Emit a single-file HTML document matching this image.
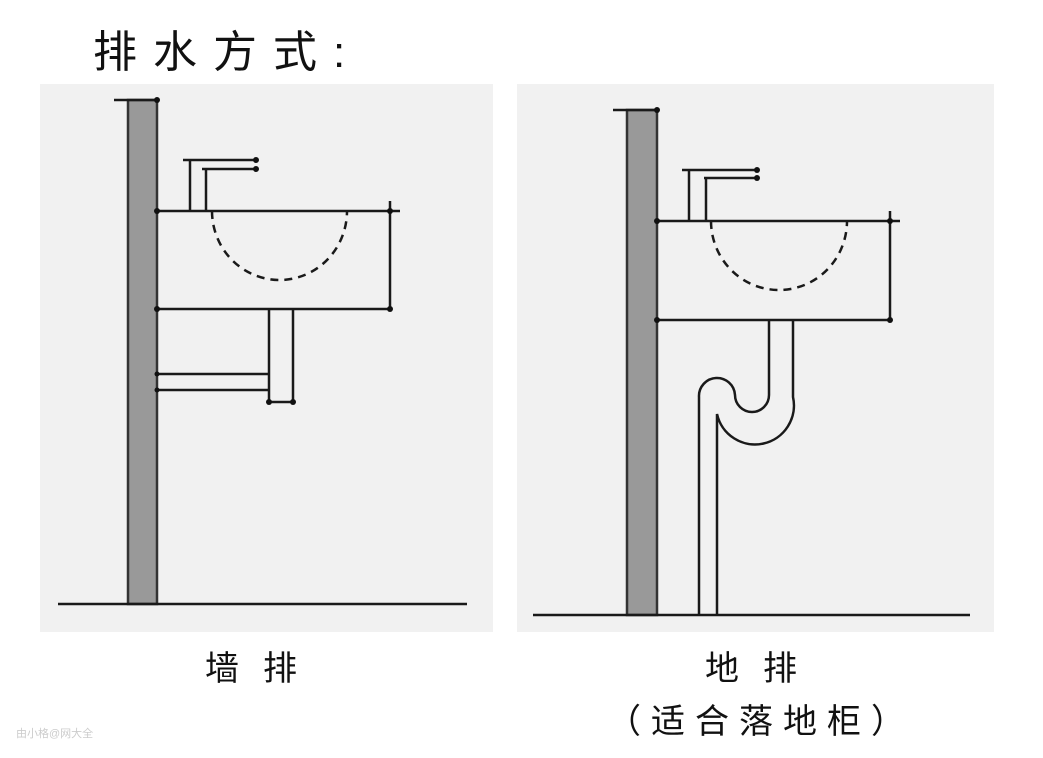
<!DOCTYPE html>
<html><head><meta charset="utf-8"><style>
html,body{margin:0;padding:0;background:#fff;width:1043px;height:758px;overflow:hidden}
svg{display:block}
text{font-family:"Liberation Sans","Noto Sans CJK SC",sans-serif;fill:#111}
</style></head><body>
<svg width="1043" height="758" viewBox="0 0 1043 758" xmlns="http://www.w3.org/2000/svg">
<rect x="40" y="84" width="453" height="548" fill="#f1f1f1"/>
<rect x="517" y="84" width="477" height="548" fill="#f1f1f1"/>
<g stroke="#1a1a1a" stroke-width="2.5" fill="none">
<rect x="128" y="100" width="29" height="504" fill="#999" stroke="#333"/>
<line x1="114" y1="100" x2="157" y2="100"/>
<line x1="58" y1="604" x2="467" y2="604"/>
<line x1="183" y1="160" x2="256" y2="160"/>
<line x1="202" y1="169" x2="256" y2="169"/>
<line x1="190" y1="160" x2="190" y2="211"/>
<line x1="206" y1="169" x2="206" y2="211"/>
<line x1="157" y1="211" x2="400" y2="211"/>
<line x1="390" y1="201" x2="390" y2="309"/>
<line x1="157" y1="309" x2="390" y2="309"/>
<path d="M212,211 A67.5,69 0 0 0 347,211" stroke-dasharray="8,6"/>
<line x1="269" y1="309" x2="269" y2="402"/>
<line x1="293" y1="309" x2="293" y2="402"/>
<line x1="269" y1="402" x2="293" y2="402"/>
<line x1="157" y1="374" x2="269" y2="374"/>
<line x1="157" y1="390" x2="269" y2="390"/>
<rect x="627" y="110" width="30" height="505" fill="#999" stroke="#333"/>
<line x1="613" y1="110" x2="657" y2="110"/>
<line x1="533" y1="615" x2="970" y2="615"/>
<line x1="682" y1="170" x2="757" y2="170"/>
<line x1="704" y1="178" x2="757" y2="178"/>
<line x1="689" y1="170" x2="689" y2="221"/>
<line x1="706" y1="178" x2="706" y2="221"/>
<line x1="656" y1="221" x2="900" y2="221"/>
<line x1="890" y1="211" x2="890" y2="320"/>
<line x1="656" y1="320" x2="890" y2="320"/>
<path d="M711,221 A68,69 0 0 0 847,221" stroke-dasharray="8,6"/>
<path d="M769,320 V395 A17,17 0 0 1 735,395 A18,18 0 0 0 699,397 V615"/>
<path d="M793,320 V397 A38,38 0 0 1 717,414 V615"/>
</g>
<g fill="#111">
<circle cx="157" cy="100" r="3"/><circle cx="157" cy="211" r="3"/><circle cx="157" cy="309" r="3"/>
<circle cx="256" cy="160" r="3"/><circle cx="256" cy="169" r="3"/><circle cx="390" cy="211" r="3"/><circle cx="390" cy="309" r="3"/>
<circle cx="269" cy="402" r="3"/><circle cx="293" cy="402" r="3"/><circle cx="157" cy="374" r="2.5"/><circle cx="157" cy="390" r="2.5"/>
<circle cx="657" cy="110" r="3"/><circle cx="657" cy="221" r="3"/><circle cx="657" cy="320" r="3"/>
<circle cx="757" cy="170" r="3"/><circle cx="757" cy="178" r="3"/><circle cx="890" cy="221" r="3"/><circle cx="890" cy="320" r="3"/>
</g>
<text x="93" y="67" font-size="44" letter-spacing="16">排水方式:</text>
<text x="205" y="680" font-size="34" letter-spacing="24">墙排</text>
<text x="705" y="680" font-size="34" letter-spacing="24">地排</text>
<text x="607" y="733" font-size="34" letter-spacing="10">（适合落地柜）</text>
<text x="16" y="737" font-size="11" style="fill:#ccc">由小格@网大全</text>
</svg>
</body></html>
